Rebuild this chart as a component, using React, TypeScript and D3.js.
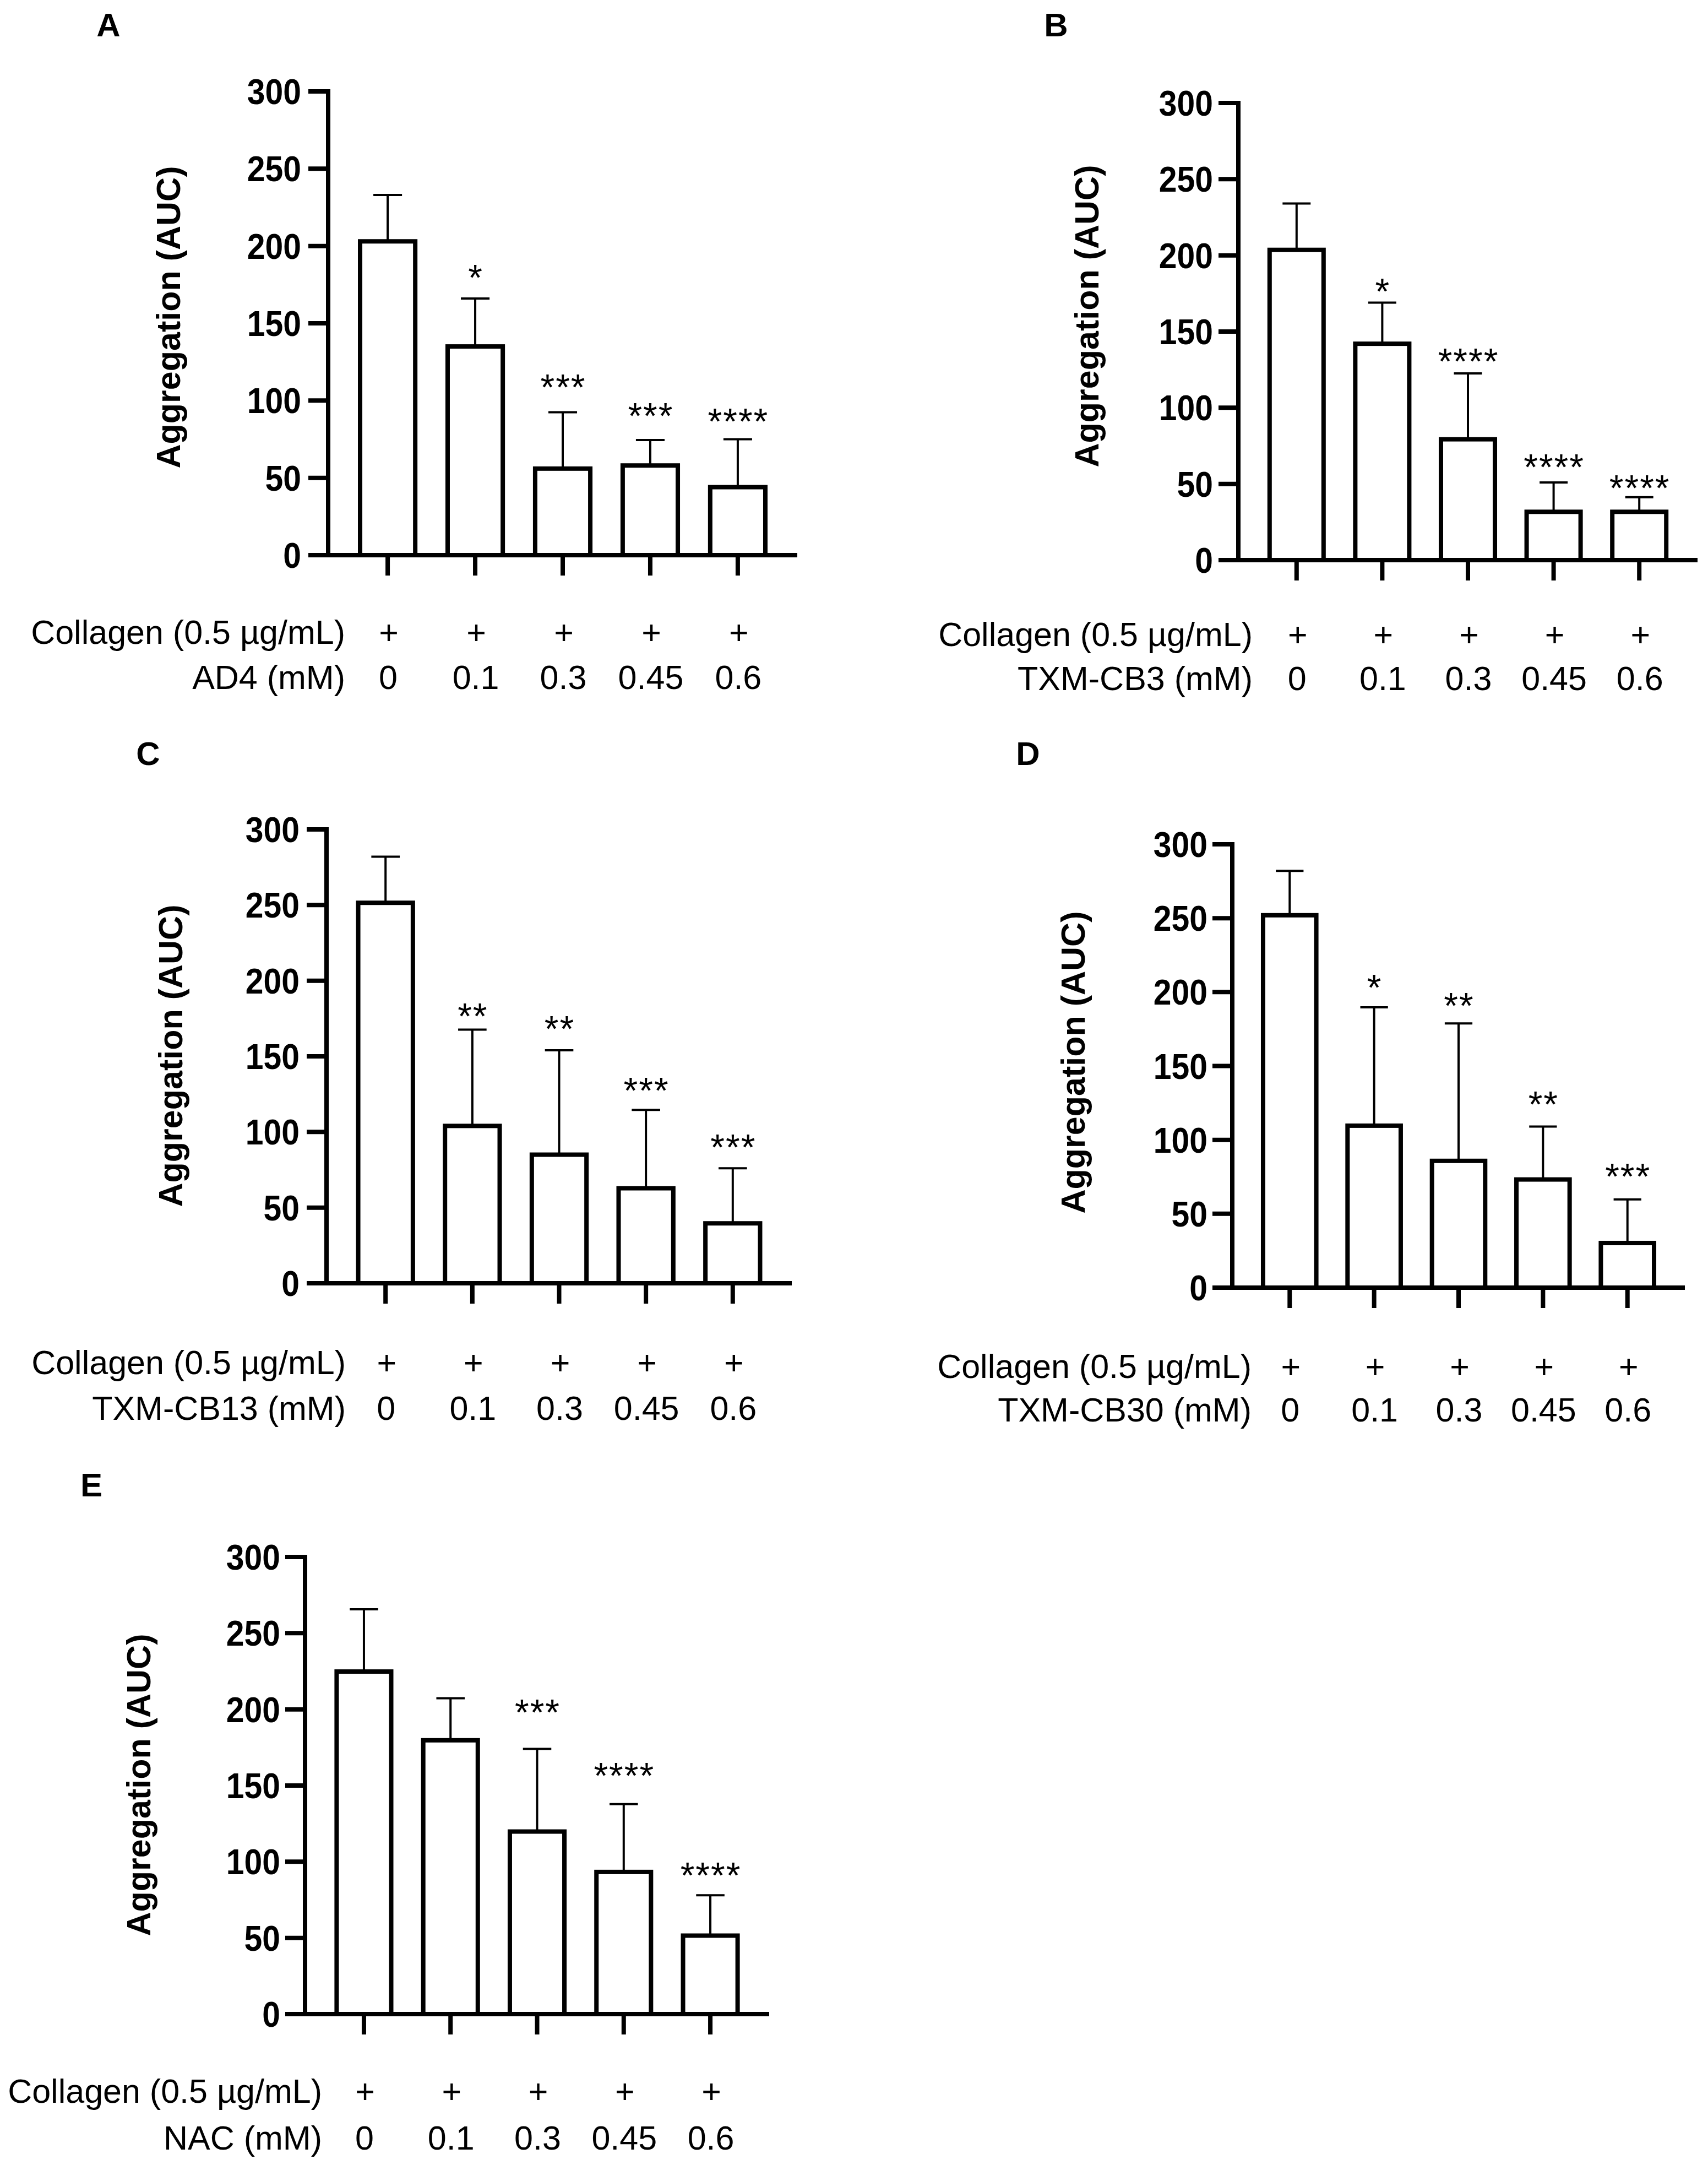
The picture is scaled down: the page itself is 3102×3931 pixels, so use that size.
import React from "react";
import * as d3 from "d3";

// ---------- data ----------
const doses = ["0", "0.1", "0.3", "0.45", "0.6"];
const collagenRow = ["+", "+", "+", "+", "+"];
const yTicks = [0, 50, 100, 150, 200, 250, 300];

const drugA = "AD4 (mM)";
const meanA = [203, 135, 56, 58, 44];
const sdA = [30, 31, 36.5, 16.5, 31];
const sigA = ["", "*", "***", "***", "****"];
const sigAtA = [0, 185, 114, 95.5, 92];

const drugB = "TXM-CB3 (mM)";
const meanB = [203.6, 142, 79.3, 31.7, 31.7];
const sdB = [30.4, 27, 43.2, 19.3, 9.6];
const sigB = ["", "*", "****", "****", "****"];
const sigAtB = [0, 182, 136, 66.5, 53];

const drugC = "TXM-CB13 (mM)";
const meanC = [251.5, 104, 85, 62.8, 39.6];
const sdC = [30.5, 63.7, 69, 51.8, 36.4];
const sigC = ["", "**", "**", "***", "***"];
const sigAtC = [0, 182, 173.6, 133, 95.4];

const drugD = "TXM-CB30 (mM)";
const meanD = [252, 109.6, 85.8, 73.2, 30.2];
const sdD = [30, 80.1, 93, 35.8, 29.5];
const sigD = ["", "*", "**", "**", "***"];
const sigAtD = [0, 208.7, 196.4, 129.7, 80.9];

const drugE = "NAC (mM)";
const meanE = [224.8, 179.7, 119.8, 93.3, 51.5];
const sdE = [40.9, 27.6, 54.2, 44.5, 26.5];
const sigE = ["", "", "***", "****", "****"];
const sigAtE = [0, 0, 203.5, 161.9, 96.5];

const collagenLabel = "Collagen (0.5 \u00B5g/mL)";
const yLabel = "Aggregation (AUC)";

// ---------- layout ----------
const FONT = "'Liberation Sans', Arial, Helvetica, sans-serif";

type Layout = {
  letter: string; lx: number; ly: number;
  axisX: number; xEnd: number; yTop: number; y0: number;
  tickRight: number; ylabX: number; ylabY: number;
  labRight: number; row1Y: number; row2Y: number;
};

const layouts: Layout[] = [
  { letter: "A", lx: 197, ly: 66, axisX: 596, xEnd: 1448, yTop: 166, y0: 1008, tickRight: 547, ylabX: 327, ylabY: 576, labRight: 627, row1Y: 1169, row2Y: 1251 },
  { letter: "B", lx: 1918, ly: 66, axisX: 2249, xEnd: 3083, yTop: 187, y0: 1017, tickRight: 2203, ylabX: 1995, ylabY: 574, labRight: 2275, row1Y: 1173, row2Y: 1253 },
  { letter: "C", lx: 269, ly: 1389, axisX: 593, xEnd: 1438, yTop: 1506, y0: 2330, tickRight: 544, ylabX: 331, ylabY: 1917, labRight: 628, row1Y: 2495, row2Y: 2578 },
  { letter: "D", lx: 1867, ly: 1389, axisX: 2238, xEnd: 3060, yTop: 1533, y0: 2338, tickRight: 2193, ylabX: 1970, ylabY: 1929, labRight: 2273, row1Y: 2502, row2Y: 2581 },
  { letter: "E", lx: 166, ly: 2717, axisX: 554, xEnd: 1397, yTop: 2827, y0: 3657, tickRight: 509, ylabX: 273, ylabY: 3241, labRight: 585, row1Y: 3818, row2Y: 3903 },
];

const panelData = [
  { drug: drugA, mean: meanA, sd: sdA, sig: sigA, sigAt: sigAtA },
  { drug: drugB, mean: meanB, sd: sdB, sig: sigB, sigAt: sigAtB },
  { drug: drugC, mean: meanC, sd: sdC, sig: sigC, sigAt: sigAtC },
  { drug: drugD, mean: meanD, sd: sdD, sig: sigD, sigAt: sigAtD },
  { drug: drugE, mean: meanE, sd: sdE, sig: sigE, sigAt: sigAtE },
];

function Panel({ L, d }: { L: Layout; d: typeof panelData[number] }) {
  const y = d3.scaleLinear().domain([0, 300]).range([L.y0, L.yTop]);
  const x = d3.scalePoint<string>().domain(doses).range([L.axisX, L.xEnd]).padding(0.68);
  const step = x.step();
  const barW = step * 0.63;
  const capW = barW * 0.52;
  const tickLen = 36;
  const starFs = 66;
  const textFs = 61;
  const tickFs = 64;

  return (
    <g>
      <text x={L.lx} y={L.ly} fontFamily={FONT} fontWeight="bold" fontSize={60} textAnchor="middle">{L.letter}</text>

      {/* y label */}
      <text transform={`translate(${L.ylabX},${L.ylabY}) rotate(-90)`} fontFamily={FONT} fontWeight="bold" fontSize={61} textAnchor="middle">{yLabel}</text>

      {/* bars */}
      {doses.map((g, i) => {
        const cx = x(g)!;
        const top = y(d.mean[i]);
        const errTop = y(d.mean[i] + d.sd[i]);
        return (
          <g key={g}>
            <line x1={cx} x2={cx} y1={top} y2={errTop} stroke="#000" strokeWidth={4} />
            <line x1={cx - capW / 2} x2={cx + capW / 2} y1={errTop} y2={errTop} stroke="#000" strokeWidth={4} />
            <rect x={cx - barW / 2} y={top} width={barW} height={L.y0 - top} fill="#fff" stroke="#000" strokeWidth={8} />
            {d.sig[i] && (
              <text x={cx + 1} y={y(d.sigAt[i]) + 0.58 * starFs} fontFamily={FONT} fontSize={starFs} textAnchor="middle" letterSpacing={2}>{d.sig[i]}</text>
            )}
          </g>
        );
      })}

      {/* y axis */}
      <line x1={L.axisX} x2={L.axisX} y1={L.yTop - 4} y2={L.y0 + 4} stroke="#000" strokeWidth={8} />
      {yTicks.map((t) => (
        <g key={t}>
          <line x1={L.axisX - tickLen} x2={L.axisX} y1={y(t)} y2={y(t)} stroke="#000" strokeWidth={8} />
          <text transform={`translate(${L.tickRight},${y(t) + 23}) scale(0.92,1)`} fontFamily={FONT} fontWeight="bold" fontSize={tickFs} textAnchor="end">{t}</text>
        </g>
      ))}

      {/* x axis */}
      <line x1={L.axisX - tickLen} x2={L.xEnd} y1={L.y0} y2={L.y0} stroke="#000" strokeWidth={8} />
      {doses.map((g) => (
        <line key={g} x1={x(g)!} x2={x(g)!} y1={L.y0} y2={L.y0 + 37} stroke="#000" strokeWidth={8} />
      ))}

      {/* condition rows */}
      <text x={L.labRight} y={L.row1Y} fontFamily={FONT} fontSize={textFs} textAnchor="end">{collagenLabel}</text>
      <text x={L.labRight} y={L.row2Y} fontFamily={FONT} fontSize={textFs} textAnchor="end">{d.drug}</text>
      {doses.map((g, i) => (
        <g key={g}>
          <text x={x(g)! + 2} y={L.row1Y} fontFamily={FONT} fontSize={textFs} textAnchor="middle">{collagenRow[i]}</text>
          <text x={x(g)! + 1} y={L.row2Y} fontFamily={FONT} fontSize={textFs} textAnchor="middle">{g}</text>
        </g>
      ))}
    </g>
  );
}

export default function App() {
  return (
    <svg
      width={3102}
      height={3931}
      viewBox="0 0 3102 3931"
      style={{ position: "absolute", left: 0, top: 0, background: "#fff" }}
    >
      <rect x={0} y={0} width={3102} height={3931} fill="#fff" />
      {layouts.map((L, i) => (
        <Panel key={L.letter} L={L} d={panelData[i]} />
      ))}
    </svg>
  );
}
